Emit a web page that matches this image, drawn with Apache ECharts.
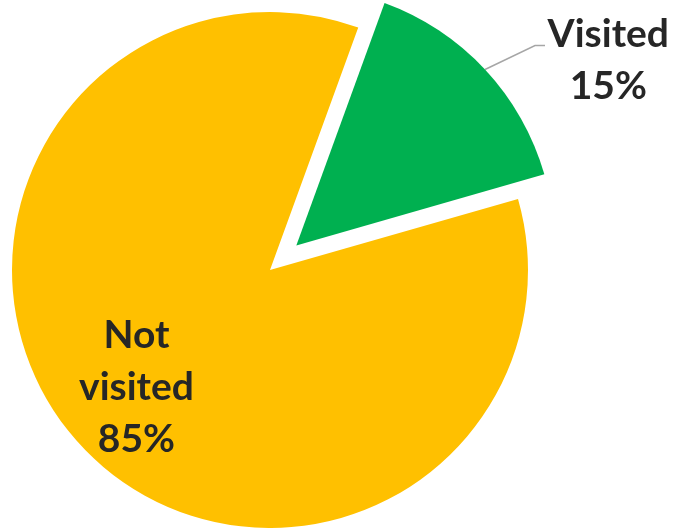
<!DOCTYPE html>
<html>
<head>
<meta charset="utf-8">
<script src="https://cdn.jsdelivr.net/npm/echarts@6/dist/echarts.min.js"></script>
<style>
  html, body { margin: 0; padding: 0; background: #fff; }
  #chart { width: 674px; height: 528px; }
</style>
</head>
<body>
<div id="chart"></div>
<script>
// Share of respondents who visited vs. did not visit
const categories = ['Visited', 'Not visited'];
const shares = [15, 85];
const sliceColors = ['#00B050', '#FFC000'];
const explodedIndex = 0;

const pieCenter = [270, 270];
const pieRadius = 258;
const textColor = '#262626';
const fontFamily = 'Lato, "Open Sans", sans-serif';
const fontSize = 39;
const lineHeight = 52;

const chart = echarts.init(document.getElementById('chart'), null, { renderer: 'canvas' });

const labelText = (name, value) =>
  name.split(' ').concat([value + '%']).map(s => '{t|' + s + '}').join('\n');

const data = categories.map((name, i) => ({
  name: name,
  value: shares[i],
  selected: i === explodedIndex,
  itemStyle: { color: sliceColors[i] },
  label: i === explodedIndex
    ? { position: 'outside', padding: [29, 0, 0, 0], distanceToLabelLine: 3 }
    : { position: 'inside', offset: [-37, 27] },
  labelLine: { show: i === explodedIndex }
}));

chart.setOption({
  animation: false,
  backgroundColor: '#ffffff',
  series: [{
    type: 'pie',
    center: pieCenter,
    radius: [0, pieRadius],
    startAngle: 70,
    clockwise: true,
    selectedMode: 'single',
    selectedOffset: 36,
    avoidLabelOverlap: false,
    emphasis: { disabled: true },
    label: {
      show: true,
      formatter: p => labelText(p.name, p.value),
      rich: {
        t: {
          color: textColor,
          fontFamily: fontFamily,
          fontWeight: 'bold',
          fontSize: fontSize,
          lineHeight: lineHeight,
          align: 'center'
        }
      }
    },
    labelLine: {
      length: 35,
      length2: 34,
      lineStyle: { color: '#A6A6A6', width: 1.5 }
    },
    // leader line: short diagonal from the slice edge, then a small horizontal tail
    labelLayout: function (p) {
      if (p.dataIndex !== explodedIndex || !p.labelLinePoints) return {};
      const a = p.labelLinePoints[0];
      return {
        labelLinePoints: [a, [a[0] + 50, a[1] - 24], [a[0] + 60, a[1] - 24]]
      };
    },
    data: data
  }]
});
</script>
</body>
</html>
